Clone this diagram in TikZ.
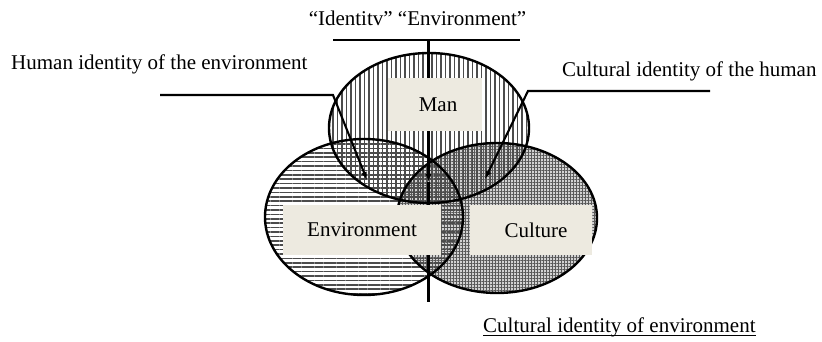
\documentclass[tikz,border=0pt]{standalone}
\usepackage{fontspec}
\setmainfont{Liberation Serif}
\usetikzlibrary{shapes.geometric,patterns.meta,arrows.meta}
\definecolor{boxfill}{RGB}{237,234,224}
\begin{document}
\begin{tikzpicture}[x=1pt,y=-1pt,
  lbl/.style={font=\fontsize{21}{25}\selectfont, inner sep=0pt},
  setarea/.style={ellipse, inner sep=0pt, draw=none},
  namebox/.style={fill=boxfill, inner sep=0pt, font=\fontsize{21}{25}\selectfont},
  conn/.style={line width=2.1pt, black},
  outline/.style={line width=2.4pt, black},
  tip/.style={-{Latex[length=8pt,width=6pt]}}
]
\useasboundingbox (0,0) rectangle (822,342);

% set areas with hatching
\node[setarea, minimum width=200pt, minimum height=150pt,
      preaction={fill=gray!35},
      pattern={Hatch[angle=0,distance=3pt,line width=1pt]}, pattern color=black!65] (culture) at (497,218) {};
\node[setarea, minimum width=198pt, minimum height=156pt,
      pattern={Lines[angle=0,distance=4.4pt,line width=1.6pt]}, pattern color=black!70] (env) at (364,217) {};
\node[setarea, minimum width=200pt, minimum height=150pt,
      pattern={Lines[angle=90,distance=4.5pt,line width=1.6pt]}, pattern color=black!70] (man) at (429,128) {};

% outlines
\draw[outline] (culture.center) ellipse [x radius=100, y radius=75];
\draw[outline] (env.center) ellipse [x radius=99, y radius=78];
\draw[outline] (man.center) ellipse [x radius=100, y radius=75];

% connector coordinates
\coordinate (lstart) at (160,95);
\coordinate (lbend) at (333,95);
\coordinate (ltip) at (367,180);
\coordinate (rstart) at (710,91);
\coordinate (rbend) at (528,91);
\coordinate (rtip) at (485,179);
\coordinate (tleft) at (333,40);
\coordinate (tright) at (520,40);
\coordinate (ttop) at (428.5,40);
\coordinate (mtip) at (428.5,182);
\coordinate (vbot) at (428.5,302);

\draw[conn, tip] (lstart) -- (lbend) -- (ltip);
\draw[conn, tip] (rstart) -- (rbend) -- (rtip);
\draw[conn] (tleft) -- (tright);
\draw[conn, tip] (ttop) -- (mtip);
\draw[conn] (mtip) -- (vbot);

% name boxes
\node[namebox, minimum width=94pt, minimum height=53pt] (manbox) at (435,104.5) {\hspace*{6pt}Man};
\node[namebox, minimum width=158pt, minimum height=50pt] (envbox) at (362,230) {Environment};
\node[namebox, minimum width=122pt, minimum height=50pt] (culbox) at (531,230) {\hspace*{10pt}Culture};

% labels
\node[lbl, anchor=base] (title) at (417.5,26) {“Identitv” “Environment”};
\node[lbl, anchor=base west] (humanenv) at (11,70) {Human identity of the environment};
\node[lbl, anchor=base west] (culthuman) at (562,77) {Cultural identity of the human};
\node[lbl, anchor=base west] (cultenv) at (483,332) {Cultural identity of environment};
\draw[line width=1pt] ([yshift=-3.5pt]cultenv.base west) -- ([yshift=-3.5pt]cultenv.base east);
\end{tikzpicture}
\end{document}
